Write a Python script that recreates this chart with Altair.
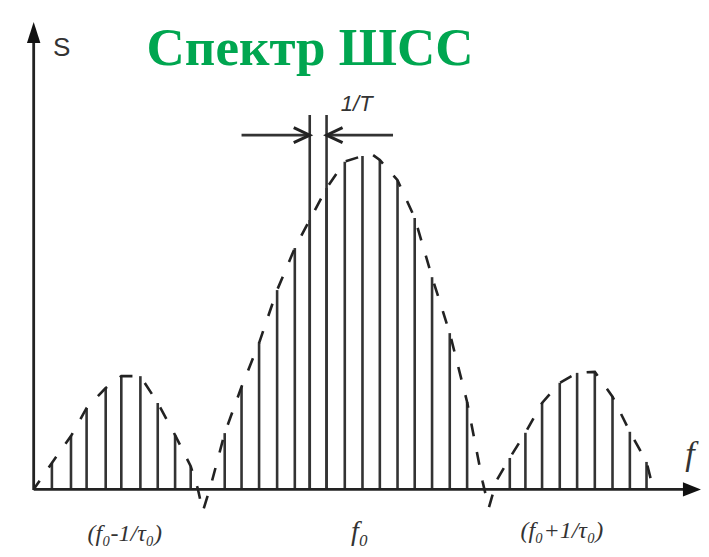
import altair as alt
import pandas as pd

# ---- data (frequency in units of 1/T relative to f0, amplitude normalised to the peak) ----
line_f = [-17.9, -16.8, -15.9, -14.8, -13.9, -12.8, -11.8, -10.8, -9.9,
          -7.94, -6.97, -5.96, -4.92, -3.90, -3.04, -2.07, -1.02, 0.0, 1.0, 2.02, 3.01, 4.01, 5.03, 6.03,
          8.49, 9.39, 10.35, 11.37, 12.37, 13.39, 14.41, 15.41, 16.37]
line_s = [0.076, 0.157, 0.242, 0.302, 0.338, 0.338, 0.257, 0.160, 0.066,
          0.166, 0.306, 0.438, 0.598, 0.725, 0.81, 0.906, 0.986, 1.003, 0.991, 0.930, 0.816, 0.637, 0.468, 0.260,
          0.091, 0.167, 0.257, 0.318, 0.348, 0.351, 0.276, 0.170, 0.079]

env_f = [-18.9, -17.9, -16.8, -15.9, -14.8, -13.9, -12.8, -11.8, -10.8, -9.9, -9.5, -9.2, -8.75,
         -7.94, -6.97, -5.96, -4.92, -3.90, -3.04, -2.07, -1.02, 0.0, 0.5, 1.0, 2.02, 3.01, 4.01, 5.03, 6.03,
         6.93, 7.28, 7.74, 8.49, 9.39, 10.35, 11.37, 12.37, 13.39, 14.41, 15.41, 16.37, 16.6]
env_s = [0.0, 0.076, 0.157, 0.242, 0.302, 0.338, 0.338, 0.257, 0.160, 0.066, 0.0, -0.07, 0.006,
         0.166, 0.306, 0.438, 0.598, 0.725, 0.81, 0.906, 0.986, 1.003, 1.01, 0.991, 0.930, 0.816, 0.637, 0.468, 0.260,
         0.018, -0.06, 0.024, 0.091, 0.167, 0.257, 0.318, 0.348, 0.351, 0.276, 0.170, 0.079, 0.03]

marker_f = [-3.04, -2.07]
marker_top = 1.127
arrow_from = [-6.97, -2.07]
arrow_to = [-3.04, 1.76]
arrow_level = 1.066

labels = ["Спектр ШСС", "1/T", "S", "f", "(f₀-1/τ₀)", "f₀", "(f₀+1/τ₀)"]

X_DOM = [-20.43, 19.51]
Y_DOM = [-0.184, 1.450]
INK = "#333333"

xs = alt.Scale(domain=X_DOM, nice=False, zero=False)
ys = alt.Scale(domain=Y_DOM, nice=False, zero=False)

def X(field="f"):
    return alt.X(f"{field}:Q", scale=xs, axis=None)

def Y(field="s"):
    return alt.Y(f"{field}:Q", scale=ys, axis=None)

lines_df = pd.DataFrame({"f": line_f, "s": line_s, "b": 0.0})
env_df = pd.DataFrame({"f": env_f, "s": env_s, "i": range(len(env_f))})
mark_df = pd.DataFrame({"f": marker_f, "s": marker_top, "b": 0.0})
arr_df = pd.DataFrame({"f": arrow_from, "f2": arrow_to, "s": arrow_level})

spectral = alt.Chart(lines_df).mark_rule(color=INK, strokeWidth=2.6).encode(
    x=X(), y=Y("b"), y2="s:Q")
envelope = alt.Chart(env_df).mark_line(color="#222222", strokeWidth=2.6,
                                       strokeDash=[13, 16], strokeDashOffset=4).encode(
    x=X(), y=Y(), order="i:Q")
markers = alt.Chart(mark_df).mark_rule(color=INK, strokeWidth=2.6).encode(
    x=X(), y=Y("b"), y2="s:Q")
arrows = alt.Chart(arr_df).mark_rule(color=INK, strokeWidth=2.6).encode(
    x=X(), x2="f2:Q", y=Y())

chev_df = pd.DataFrame({"f": marker_f, "s": [arrow_level, arrow_level],
                        "shape": ["M-1,-0.47L0,0L-1,0.47", "M1,-0.47L0,0L1,0.47"]})
chevrons = alt.Chart(chev_df).mark_point(filled=False, stroke="#222222", strokeWidth=3,
                                         size=1024, opacity=1).encode(
    x=X(), y=Y(), shape=alt.Shape("shape:N", scale=None))

# axes drawn as arrows
axes_df = pd.DataFrame({"f": [-18.95, -18.95], "f2": [18.5, -18.95],
                        "s": [-0.004, -0.006], "s2": [-0.004, 1.344]})
axes = alt.Chart(axes_df).mark_rule(color="#222222", strokeWidth=2.8).encode(
    x=X(), x2="f2:Q", y=Y(), y2="s2:Q")
heads_df = pd.DataFrame({"f": [-18.95, 18.47], "s": [1.344, -0.004],
                         "shape": ["M0,-1L0.32,0L-0.32,0Z", "M1,0L0,-0.4L0,0.4Z"],
                         "size": [1764, 1296]})
heads = alt.Chart(heads_df).mark_point(filled=True, color="#111111", opacity=1).encode(
    x=X(), y=Y(), shape=alt.Shape("shape:N", scale=None),
    size=alt.Size("size:Q", scale=None))

def label(text, f, s, **kw):
    d = pd.DataFrame({"f": [f], "s": [s], "t": [text]})
    return alt.Chart(d).mark_text(baseline="alphabetic", align="center", **kw).encode(
        x=X(), y=Y(), text="t:N")

title = label(labels[0], -3.02, 1.278, font="Liberation Serif", fontWeight="bold",
              fontSize=53, color="#00a650")
t_lbl = label(labels[1], -0.33, 1.139, font="Liberation Sans", fontStyle="italic",
              fontSize=22, color=INK)
s_lbl = label(labels[2], -17.33, 1.305, font="Liberation Sans", fontSize=26, color=INK)
f_lbl = label(labels[3], 18.87, 0.069, font="Liberation Serif", fontStyle="italic",
              fontSize=34, color=INK)
l_lbl = label(labels[4], -13.7, -0.16, font="Liberation Serif", fontStyle="italic",
              fontSize=24, color=INK)
c_lbl = label(labels[5], -0.16, -0.157, font="Liberation Serif", fontStyle="italic",
              fontSize=28, color=INK)
r_lbl = label(labels[6], 11.49, -0.151, font="Liberation Serif", fontStyle="italic",
              fontSize=24, color=INK)

chart = alt.layer(
    spectral, markers, envelope, arrows, chevrons, axes, heads,
    title, t_lbl, s_lbl, f_lbl, l_lbl, c_lbl, r_lbl
).properties(width=693, height=541, padding=0, autosize="none", background="white"
).configure_view(stroke=None)

chart.save("out.html", embed_options={"renderer": "svg", "actions": False})
